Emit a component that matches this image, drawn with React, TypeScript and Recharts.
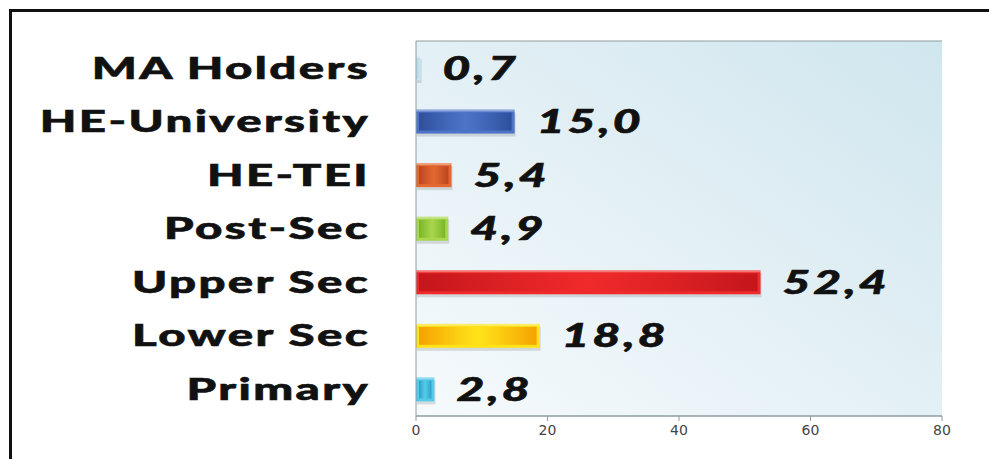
import { BarChart, Bar, XAxis, YAxis, CartesianGrid, LabelList } from "recharts";

// education levels, top to bottom as in the chart
const categories = ["MA Holders", "HE-University", "HE-TEI", "Post-Sec", "Upper Sec", "Lower Sec", "Primary"];
const shares = [0.7, 15.0, 5.4, 4.9, 52.4, 18.8, 2.8];
const innerColors = ["#9ccde0", "#2f4f9c", "#b9461f", "#78b52a", "#c4161c", "#f5a100", "#2b9fc9"];
const edgeColors = ["#c9e6f0", "#4d74c9", "#e4682f", "#a8d64c", "#f02a2a", "#ffe31a", "#55cbe9"];
const xTicks = [0, 20, 40, 60, 80];
const bandTicks = [0, 1, 2, 3, 4, 5, 6, 7];

const data = categories.map((name, i) => ({ name, value: shares[i], idx: i }));

const fmt = (v: number) => v.toFixed(1).replace(".", ",");
const font = "Lato, 'DejaVu Sans', sans-serif";

function BevelBar(props: any) {
  const { x, y, width, height, payload } = props;
  if (width <= 0) return null;
  const i = payload.idx;
  const inset = Math.min(3, width / 3);
  return (
    <g>
      <rect x={x + 1} y={y + 3} width={width} height={height} fill="#000" opacity={0.12} />
      <rect x={x} y={y} width={width} height={height} fill={edgeColors[i]} />
      <rect
        x={x + inset}
        y={y + inset}
        width={Math.max(width - inset * 2, 0)}
        height={height - inset * 2}
        fill={`url(#bar${i})`}
      />
      <rect x={x} y={y} width={width} height={2} fill="#fff" opacity={0.35} />
    </g>
  );
}

// wide heavy label, stretched sideways like the original typeface
function CatTick(props: any) {
  const { x, y, payload } = props;
  return (
    <g transform={`translate(${x},${y}) scale(1.58,1)`}>
      <text
        x={0}
        y={0}
        dy="0.36em"
        textAnchor="end"
        fontSize={30}
        fontWeight={900}
        letterSpacing={1.5}
        fill="#111"
        stroke="#111"
        strokeWidth={0.6}
        fontFamily={font}
      >
        {payload.value}
      </text>
    </g>
  );
}

function ValueLabel(props: any) {
  const { x, y, width, height, value } = props;
  const lx = x + width + 22;
  const ly = y + height / 2;
  return (
    <g transform={`translate(${lx},${ly}) scale(1.5,1)`}>
      <text
        x={0}
        y={0}
        dy="0.36em"
        fontSize={32}
        fontWeight={900}
        fontStyle="italic"
        letterSpacing={2}
        fill="#111"
        stroke="#111"
        strokeWidth={0.6}
        fontFamily={font}
      >
        {fmt(Number(value))}
      </text>
    </g>
  );
}

export default function App() {
  return (
    <div style={{ position: "absolute", left: 0, top: 0, width: 989, height: 459, background: "#fff" }}>
      <div
        style={{
          position: "absolute",
          left: 9,
          top: 9,
          width: 990,
          height: 460,
          borderLeft: "3px solid #111",
          borderTop: "3px solid #111",
        }}
      />
      <div style={{ position: "absolute", left: 0, top: 0 }}>
        <BarChart
          width={989}
          height={459}
          data={data}
          layout="vertical"
          barSize={24}
          margin={{ top: 41, right: 47, bottom: 0, left: 0 }}
        >
          <defs>
            <linearGradient id="bg" x1="0" y1="1" x2="1" y2="0">
              <stop offset="0%" stopColor="#f6fafc" />
              <stop offset="100%" stopColor="#d0e6ee" />
            </linearGradient>
            {innerColors.map((c, i) => (
              <linearGradient key={i} id={`bar${i}`} x1="0" y1="0" x2="1" y2="0">
                <stop offset="0%" stopColor={c} stopOpacity={1} />
                <stop offset="50%" stopColor={edgeColors[i]} stopOpacity={0.85} />
                <stop offset="100%" stopColor={c} stopOpacity={1} />
              </linearGradient>
            ))}
          </defs>
          <CartesianGrid yAxisId="band" vertical={false} stroke="#8f9c9e" fill="url(#bg)" fillOpacity={1} />
          <YAxis
            yAxisId="band"
            type="number"
            domain={[0, 7]}
            ticks={bandTicks}
            tick={false}
            tickSize={16}
            width={16}
            axisLine={{ stroke: "#8f9c9e" }}
            tickLine={{ stroke: "#8f9c9e" }}
          />
          <YAxis
            yAxisId="cat"
            type="category"
            dataKey="name"
            width={400}
            axisLine={false}
            tickLine={false}
            tickSize={0}
            tickMargin={30}
            tick={<CatTick />}
          />
          <XAxis
            type="number"
            domain={[0, 80]}
            ticks={xTicks}
            height={43}
            tickSize={5}
            tickMargin={4}
            axisLine={{ stroke: "#8f9c9e" }}
            tickLine={{ stroke: "#8f9c9e" }}
            tick={{ fontSize: 14, fill: "#444", fontFamily: "'DejaVu Sans', sans-serif" }}
          />
          <Bar dataKey="value" yAxisId="cat" shape={<BevelBar />} isAnimationActive={false}>
            <LabelList dataKey="value" content={<ValueLabel />} />
          </Bar>
        </BarChart>
      </div>
    </div>
  );
}
